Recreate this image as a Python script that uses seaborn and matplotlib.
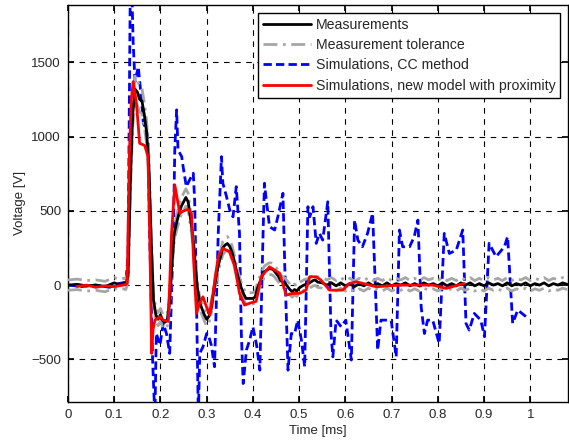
import numpy as np
import pandas as pd
import matplotlib
matplotlib.use("Agg")
import matplotlib.pyplot as plt
import seaborn as sns

# time [ms] / voltage [V]
meas_t = [0.00, 0.02, 0.04, 0.06, 0.08, 0.10, 0.11, 0.12, 0.125, 0.13, 0.135, 0.14, 0.145, 0.15,
          0.155, 0.16, 0.165, 0.17, 0.175, 0.18, 0.185, 0.19, 0.195, 0.20, 0.205, 0.21, 0.215,
          0.22, 0.225, 0.23, 0.235, 0.24, 0.245, 0.25, 0.255, 0.26, 0.265, 0.27, 0.275, 0.28,
          0.285, 0.29, 0.295, 0.30, 0.305, 0.31, 0.315, 0.32, 0.325, 0.33, 0.335, 0.34, 0.345,
          0.35, 0.355, 0.36, 0.365, 0.37, 0.375, 0.38, 0.385, 0.39, 0.395, 0.40, 0.405, 0.41,
          0.415, 0.42, 0.425, 0.43, 0.435, 0.44, 0.445, 0.45, 0.455, 0.46, 0.47, 0.48, 0.485,
          0.49, 0.495, 0.50, 0.51, 0.52, 0.53, 0.535, 0.54, 0.55, 0.56, 0.57, 0.58, 0.59, 0.60,
          0.61, 0.62, 0.63, 0.64, 0.65, 0.66, 0.67, 0.68, 0.69, 0.70, 0.71, 0.72, 0.73, 0.74,
          0.75, 0.76, 0.77, 0.78, 0.79, 0.80, 0.81, 0.82, 0.83, 0.84, 0.85, 0.86, 0.87, 0.88,
          0.89, 0.90, 0.91, 0.92, 0.93, 0.94, 0.95, 0.96, 0.97, 0.98, 0.99, 1.00, 1.01, 1.02,
          1.03, 1.04, 1.05, 1.06, 1.07, 1.08]
meas_v = [0, 5, -5, 0, -10, 15, 5, 10, 5, 60, 700, 1150, 1320, 1300,
          1250, 1240, 1150, 1030, 800, 300, -100, -200, -230, -200, -240, -250, -230,
          -100, 150, 350, 420, 480, 530, 560, 590, 560, 450, 330, 150, -20,
          -120, -160, -200, -230, -210, -150, -50, 50, 130, 190, 250, 270, 280,
          260, 220, 160, 90, 30, -20, -60, -90, -90, -90, -90, -80, -20,
          20, 60, 90, 100, 110, 110, 100, 80, 60, 30, 10, -30, -45,
          -30, -40, -20, 0, 10, 30, 35, 20, 15, 0, 15, -5, 15, -5,
          10, -10, 10, -5, 15, -5, 10, -5, 15, -5, 10, 0, 15, -5,
          10, -5, 15, 0, 10, -5, 15, -5, 10, -5, 15, 0, 15, -5,
          10, -5, 15, 0, 10, -5, 15, -5, 10, 0, 15, -5, 10, 0,
          15, -5, 10, 0, 15, 5]

# tolerance band around the measurement
tol_rel = 0.04
tol_abs = 35

cc_t = [0.00, 0.03, 0.06, 0.09, 0.11, 0.125, 0.13, 0.135, 0.138, 0.141, 0.145, 0.152, 0.159,
        0.163, 0.170, 0.173, 0.177, 0.183, 0.188, 0.191, 0.199, 0.206, 0.213, 0.220, 0.228,
        0.231, 0.235, 0.238, 0.246, 0.249, 0.256, 0.263, 0.271, 0.274, 0.278, 0.282, 0.285,
        0.292, 0.300, 0.304, 0.310, 0.317, 0.325, 0.332, 0.335, 0.343, 0.350, 0.357, 0.364,
        0.371, 0.375, 0.379, 0.386, 0.393, 0.400, 0.408, 0.415, 0.422, 0.425, 0.429, 0.436,
        0.447, 0.454, 0.465, 0.469, 0.476, 0.483, 0.490, 0.497, 0.505, 0.512, 0.519, 0.523,
        0.530, 0.537, 0.544, 0.551, 0.562, 0.569, 0.573, 0.580, 0.591, 0.601, 0.613, 0.620,
        0.627, 0.637, 0.648, 0.659, 0.666, 0.670, 0.677, 0.688, 0.699, 0.710, 0.717, 0.724,
        0.739, 0.749, 0.757, 0.764, 0.771, 0.778, 0.789, 0.803, 0.814, 0.825, 0.840, 0.854,
        0.861, 0.868, 0.879, 0.893, 0.901, 0.911, 0.926, 0.944, 0.951, 0.962, 0.973, 0.991]
cc_v = [0, -10, 0, -15, 10, 20, 200, 2100, 2000, 1630, 1370, 1470, 1247,
        1090, 1045, 975, 300, -500, -900, -326, -404, -258, -326, -460, 348,
        910, 1180, 910, 865, 798, 663, 708, 753, 573, -101, -900, -460,
        -416, -326, -340, -404, -550, 348, 865, 686, 595, 505, 460, 663,
        348, -326, -663, -438, -371, -281, -404, -573, 348, 686, 573, 393,
        371, 460, 618, 123, -573, -326, -330, -236, -371, -550, 528, 460,
        528, 281, 348, 303, 561, -326, -483, -236, -281, -236, -505, 438,
        303, 258, 348, 483, -101, -438, -236, -236, -236, -483, 371, 258,
        258, 326, 438, -146, -326, -236, -236, -393, 348, 213, 236, 371,
        -258, -303, -191, -236, -348, 281, 191, 258, 326, -258, -168, -213]

new_t = [0.019, 0.04, 0.06, 0.08, 0.10, 0.12, 0.128, 0.133, 0.137, 0.141, 0.148, 0.155, 0.166,
         0.173, 0.177, 0.181, 0.184, 0.188, 0.199, 0.206, 0.217, 0.224, 0.231, 0.242, 0.250,
         0.260, 0.267, 0.272, 0.278, 0.285, 0.292, 0.300, 0.307, 0.325, 0.335, 0.349, 0.361,
         0.371, 0.382, 0.395, 0.407, 0.418, 0.436, 0.458, 0.472, 0.487, 0.501, 0.515, 0.523,
         0.537, 0.547, 0.566, 0.594, 0.609, 0.624, 0.667, 0.718, 0.789, 0.818, 0.857]
new_v = [-10, 0, -15, -5, -10, 0, 10, 900, 1250, 1370, 1225, 955, 940,
         865, 300, -460, -300, -236, -213, -236, -245, 348, 674, 483, 500,
         510, 483, 150, -191, -120, -79, -150, -202, 191, 247, 226, 123,
         -56, -135, -120, -110, 56, 123, 79, -67, -56, -56, -34, 56,
         56, 34, -34, -34, 11, 22, -11, 0, 0, -22, 11]

meas = pd.DataFrame({"t": meas_t, "v": meas_v})
meas["upper"] = meas["v"] + tol_rel * meas["v"].abs() + tol_abs
meas["lower"] = meas["v"] - tol_rel * meas["v"].abs() - tol_abs
cc = pd.DataFrame({"t": cc_t, "v": cc_v})
new = pd.DataFrame({"t": new_t, "v": new_v})

sns.set_theme(style="white")
plt.rcParams["font.family"] = ["Liberation Sans", "DejaVu Sans"]

fig = plt.figure(figsize=(5.69, 4.43), dpi=100)
ax = fig.add_axes([0.1195, 0.093, 0.879, 0.896])

sns.lineplot(data=meas, x="t", y="v", ax=ax, color="black", lw=2, sort=False,
             estimator=None, label="Measurements", zorder=4)
sns.lineplot(data=meas, x="t", y="upper", ax=ax, color="#a6a6a6", lw=2, sort=False,
             estimator=None, linestyle=(0, (5, 2, 1, 2)), label="Measurement tolerance", zorder=3)
sns.lineplot(data=meas, x="t", y="lower", ax=ax, color="#a6a6a6", lw=2, sort=False,
             estimator=None, linestyle=(0, (5, 2, 1, 2)), label="_nolegend_", zorder=3)
sns.lineplot(data=cc, x="t", y="v", ax=ax, color="#0000ff", lw=2, sort=False,
             estimator=None, linestyle=(0, (3, 1.5)), label="Simulations, CC method", zorder=2)
sns.lineplot(data=new, x="t", y="v", ax=ax, color="#ff0000", lw=2, sort=False,
             estimator=None, label="Simulations, new model with proximity", zorder=5)

ax.set_xlim(0, 1.082)
ax.set_ylim(-786, 1887)
ax.set_xticks(np.arange(0, 1.01, 0.1))
ax.set_xticklabels(["0", "0.1", "0.2", "0.3", "0.4", "0.5", "0.6", "0.7", "0.8", "0.9", "1"])
ax.set_yticks([-500, 0, 500, 1000, 1500])
ax.grid(True, color="black", linestyle=(0, (5, 5)), linewidth=0.8)
ax.set_axisbelow(True)
ax.tick_params(direction="in", length=4, color="black", labelsize=9.5,
               top=True, right=True, bottom=True, left=True, pad=5)
for s in ax.spines.values():
    s.set_color("black")
    s.set_linewidth(1)

ax.set_xlabel("Time [ms]", fontsize=9.5, labelpad=3)
ax.set_ylabel("Voltage [V]", fontsize=9.5, labelpad=4)

leg = ax.legend(loc="upper right", fontsize=10.2, frameon=True, fancybox=False,
                edgecolor="black", framealpha=1, borderpad=0.35, labelspacing=0.45,
                handlelength=3.4, handletextpad=0.3, borderaxespad=0.55)
leg.get_frame().set_linewidth(1)

fig.savefig("out.png", dpi=100)
